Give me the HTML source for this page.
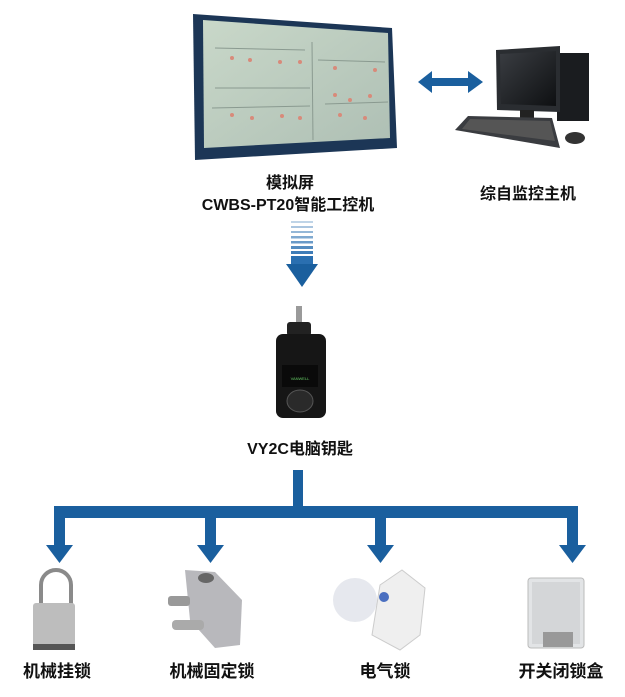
<!DOCTYPE html>
<html><head><meta charset="utf-8"><style>
html,body{margin:0;padding:0;background:#fff;width:625px;height:697px;overflow:hidden}
.t{position:absolute;font-family:"Liberation Sans","Noto Sans CJK SC",sans-serif;font-weight:bold;color:#111;white-space:nowrap;transform:translateX(-50%)}
</style></head><body>
<svg width="625" height="697" style="position:absolute;left:0;top:0">
<defs>
<linearGradient id="scr" x1="0" y1="0" x2="1" y2="1"><stop offset="0" stop-color="#c9d8c9"/><stop offset="1" stop-color="#aebfb4"/></linearGradient>
<linearGradient id="mon" x1="0" y1="0" x2="1" y2="1"><stop offset="0" stop-color="#3a3d42"/><stop offset="1" stop-color="#0e1012"/></linearGradient>
</defs>
<!-- panel -->
<polygon points="193,14 392,28 397,148 195,160" fill="#1c3656"/>
<polygon points="203,20 388,33 390,138 204,148" fill="url(#scr)"/>
<g stroke="#8a9a90" stroke-width="1" fill="none">
<line x1="215" y1="48" x2="305" y2="50"/><line x1="318" y1="60" x2="385" y2="62"/>
<line x1="212" y1="108" x2="310" y2="106"/><line x1="325" y1="104" x2="388" y2="102"/>
<line x1="312" y1="42" x2="313" y2="140"/><line x1="215" y1="88" x2="310" y2="88"/>
</g>
<g fill="#d88a7a">
<circle cx="232" cy="58" r="2"/><circle cx="250" cy="60" r="2"/><circle cx="280" cy="62" r="2"/><circle cx="300" cy="62" r="2"/>
<circle cx="232" cy="115" r="2"/><circle cx="252" cy="118" r="2"/><circle cx="282" cy="116" r="2"/><circle cx="300" cy="118" r="2"/>
<circle cx="335" cy="95" r="2"/><circle cx="350" cy="100" r="2"/><circle cx="370" cy="96" r="2"/><circle cx="340" cy="115" r="2"/><circle cx="365" cy="118" r="2"/><circle cx="335" cy="68" r="2"/><circle cx="375" cy="70" r="2"/>
</g>
<!-- double arrow -->
<polygon points="418,82 432,71 432,78 468,78 468,71 483,82 468,93 468,86 432,86 432,93" fill="#1a5f9e"/>
<!-- computer -->
<rect x="557" y="53" width="32" height="68" fill="#1a1c1f"/>
<polygon points="496,50 560,46 560,112 497,110" fill="#2a2d31"/>
<polygon points="500,54 556,51 556,106 501,104" fill="url(#mon)"/>
<rect x="520" y="110" width="14" height="8" fill="#222"/>
<polygon points="468,116 552,118 560,148 455,130" fill="#3a3c40"/>
<polygon points="470,119 550,121 555,141 462,129" fill="#555"/>
<ellipse cx="575" cy="138" rx="10" ry="6" fill="#333"/>
<!-- gradient arrow -->
<g fill="#2a6fb0">
<rect x="291" y="221" width="22" height="2" opacity=".3"/><rect x="291" y="226" width="22" height="2" opacity=".4"/>
<rect x="291" y="231" width="22" height="2" opacity=".5"/><rect x="291" y="236" width="22" height="2.5" opacity=".6"/>
<rect x="291" y="241" width="22" height="2.5" opacity=".7"/><rect x="291" y="246" width="22" height="3" opacity=".8"/>
<rect x="291" y="251" width="22" height="3" opacity=".9"/><rect x="291" y="256" width="22" height="10"/>
</g>
<polygon points="286,264 318,264 302,287" fill="#1a5f9e"/>
<!-- key -->
<rect x="296" y="306" width="6" height="18" fill="#9a9a9a"/>
<rect x="287" y="322" width="24" height="14" rx="3" fill="#222"/>
<rect x="276" y="334" width="50" height="84" rx="7" fill="#161616"/>
<rect x="282" y="365" width="36" height="22" fill="#0a0a0a"/>
<text x="300" y="380" font-size="4" fill="#6c6" text-anchor="middle" font-family="Liberation Sans">VANWELL</text>
<ellipse cx="300" cy="401" rx="13" ry="11" fill="#2a2a2a" stroke="#555"/>
<!-- tree -->
<g fill="#1a5f9e">
<rect x="293" y="470" width="10" height="44"/>
<rect x="54" y="506" width="523" height="12"/>
<rect x="54" y="506" width="11" height="40"/><rect x="205" y="506" width="11" height="40"/>
<rect x="375" y="506" width="11" height="40"/><rect x="567" y="506" width="11" height="40"/>
<polygon points="46,545 73,545 59.5,563"/><polygon points="197,545 224,545 210.5,563"/>
<polygon points="367,545 394,545 380.5,563"/><polygon points="559,545 586,545 572.5,563"/>
</g>
<!-- padlock -->
<path d="M41,608 V585 a15,15 0 0 1 30,0 V608" fill="none" stroke="#8a8a8a" stroke-width="4"/>
<rect x="33" y="603" width="42" height="47" rx="3" fill="#bdbdbd"/>
<rect x="33" y="644" width="42" height="6" fill="#555"/>
<!-- fixed lock -->
<polygon points="185,570 215,572 242,600 240,645 215,648 190,620" fill="#b8b8bc"/>
<ellipse cx="206" cy="578" rx="8" ry="5" fill="#666"/>
<rect x="172" y="620" width="32" height="10" rx="4" fill="#aaa"/>
<rect x="168" y="596" width="22" height="10" rx="3" fill="#999"/>
<!-- electric lock -->
<circle cx="355" cy="600" r="22" fill="#e6e8ee"/>
<polygon points="380,585 402,570 425,588 420,635 400,650 372,635" fill="#efefef" stroke="#ccc"/>
<circle cx="384" cy="597" r="5" fill="#4a6fc0"/>
<!-- box -->
<rect x="528" y="578" width="56" height="70" rx="3" fill="#e2e4e6" stroke="#bbb"/>
<rect x="532" y="582" width="48" height="62" fill="#d4d6d8"/>
<rect x="543" y="632" width="30" height="15" fill="#999"/>
</svg>
<div class="t" style="left:290px;top:169px;font-size:16px">模拟屏</div>
<div class="t" style="left:288px;top:191px;font-size:16px">CWBS-PT20智能工控机</div>
<div class="t" style="left:528px;top:180px;font-size:16px">综自监控主机</div>
<div class="t" style="left:300px;top:435px;font-size:16px">VY2C电脑钥匙</div>
<div class="t" style="left:57px;top:657px;font-size:17px">机械挂锁</div>
<div class="t" style="left:212px;top:657px;font-size:17px">机械固定锁</div>
<div class="t" style="left:385px;top:657px;font-size:17px">电气锁</div>
<div class="t" style="left:561px;top:657px;font-size:17px">开关闭锁盒</div>
</body></html>
